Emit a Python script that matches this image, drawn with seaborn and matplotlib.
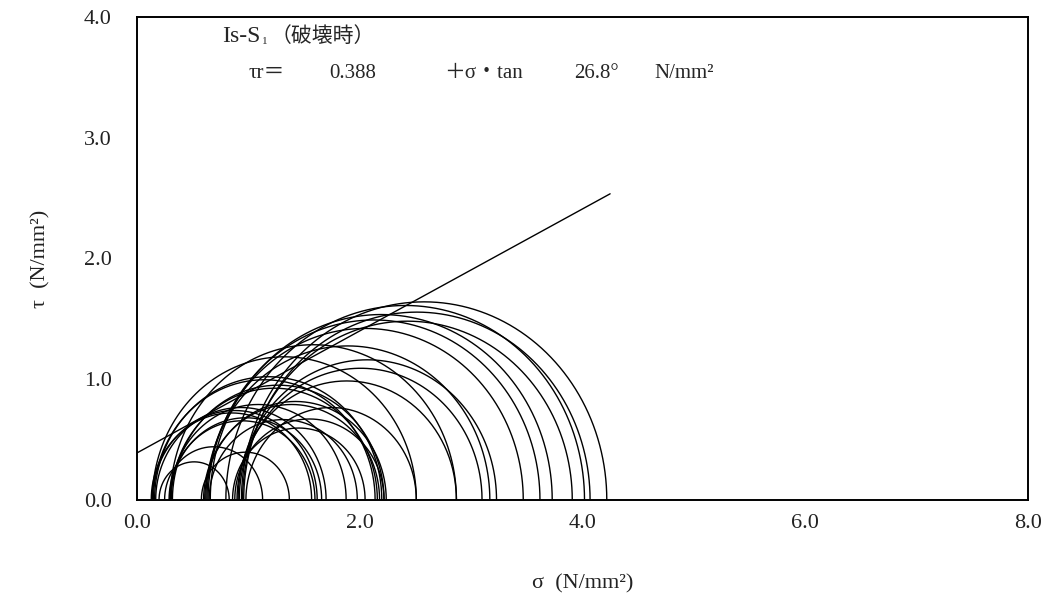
import numpy as np
import pandas as pd
import matplotlib
matplotlib.use("Agg")
import matplotlib.pyplot as plt
import seaborn as sns

# Mohr circles at failure: minor / major principal stress (N/mm2)
sigma3 = [0.13, 0.14, 0.15, 0.16, 0.17, 0.14, 0.20, 0.25,
          0.29, 0.30, 0.31, 0.32, 0.30, 0.30,
          0.58, 0.60, 0.61, 0.62, 0.63, 0.64, 0.65, 0.66,
          0.86, 0.88, 0.90, 0.91, 0.92, 0.80, 0.95, 0.96, 0.94, 0.98]
sigma1 = [1.57, 1.62, 2.14, 2.20, 1.70, 2.51, 0.83, 1.13,
          1.60, 1.66, 2.16, 2.22, 1.88, 2.87,
          1.37, 2.18, 2.24, 3.17, 3.47, 3.62, 1.98, 3.73,
          2.05, 2.22, 2.87, 3.23, 3.10, 4.02, 3.91, 4.07, 4.22, 2.51]

# strength envelope
cohesion = 0.388
phi_deg = 26.8
sigma_end = 4.25

x_ticks = [0, 2, 4, 6, 8]
x_labels = ["0.0", "2.0", "4.0", "6.0", "8.0"]
y_ticks = [0, 1, 2, 3, 4]
y_labels = ["0.0", "1.0", "2.0", "3.0", "4.0"]

# build the circles as a long table
rows = []
theta = np.linspace(0, np.pi, 181)
for i, (s3, s1) in enumerate(zip(sigma3, sigma1)):
    c = (s1 + s3) / 2
    r = (s1 - s3) / 2
    for t in theta:
        rows.append((i, c + r * np.cos(t), r * np.sin(t)))
circles = pd.DataFrame(rows, columns=["circle", "sigma", "tau"])

env = pd.DataFrame({"sigma": [0, sigma_end]})
env["tau"] = cohesion + env["sigma"] * np.tan(np.radians(phi_deg))

sns.set_style("white")
plt.rcParams["font.family"] = ["Liberation Serif", "Noto Sans CJK JP"]

fig = plt.figure(figsize=(10.52, 6.03), dpi=100)
ax = fig.add_axes([0.130, 0.171, 0.847, 0.801])

sns.lineplot(data=circles, x="sigma", y="tau", units="circle", estimator=None,
             sort=False, color="black", linewidth=1.0, ax=ax, legend=False)
sns.lineplot(data=env, x="sigma", y="tau", color="black", linewidth=1.0,
             ax=ax, legend=False)

ax.set_xlim(0, 8)
ax.set_ylim(0, 4)
ax.set_xticks(x_ticks)
ax.set_xticklabels(x_labels)
ax.set_yticks(y_ticks)
ax.set_yticklabels(y_labels)
ax.tick_params(direction="in", length=5, width=1, labelsize=16, colors="#222222")
ax.tick_params(axis="x", pad=10)
ax.tick_params(axis="y", pad=18)
for s in ax.spines.values():
    s.set_color("black")
    s.set_linewidth(1.4)

serif = ["Liberation Serif", "Noto Sans CJK JP"]
cjk = ["Noto Sans CJK JP", "Liberation Serif"]
ax.set_xlabel("σ  (N/mm²)", fontsize=16, labelpad=30, family=serif, color="#222222")
ax.set_ylabel("τ  (N/mm²)", fontsize=16, labelpad=24, family=serif, color="#222222")

# annotation: title and envelope equation
ax.text(0.77, 3.84, "Is-S", fontsize=17, family=serif, va="center", ha="left")
ax.text(1.12, 3.80, "1", fontsize=8, family=serif, va="center", ha="left")
ax.text(1.20, 3.84, "（破壊時）", fontsize=15, family=cjk, va="center", ha="left")
eq_parts = ["τr＝", "0.388", "＋σ・tan", "26.8°", "N/mm²"]
eq_x = [1.0, 1.73, 2.76, 3.93, 4.65]
for s, xp in zip(eq_parts, eq_x):
    ax.text(xp, 3.53, s, fontsize=15, family=serif, va="center", ha="left")

fig.savefig("out.png", dpi=100)
